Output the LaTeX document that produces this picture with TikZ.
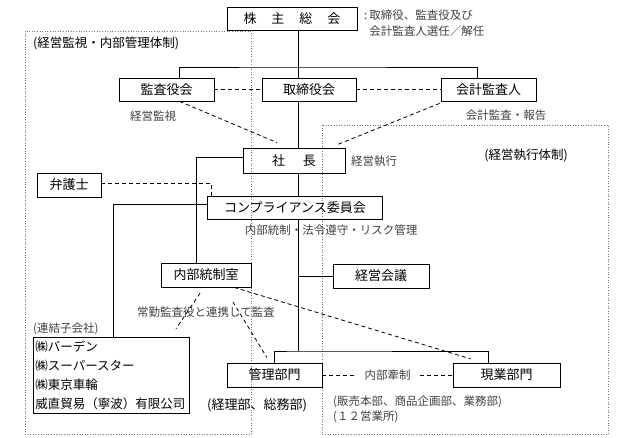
\documentclass[tikz,border=0pt]{standalone}
\usepackage{fontspec}
\setmainfont{Noto Sans CJK JP}
\usetikzlibrary{calc}
\tikzset{
	box/.style={draw, line width=0.8pt, minimum height=23pt, inner sep=0pt, font=\fontsize{13}{15}\selectfont},
	lbl/.style={inner sep=0pt, text=black!75, font=\fontsize{11.5}{16}\selectfont},
	head/.style={inner sep=0pt, font=\fontsize{12.5}{15}\selectfont},
	link/.style={line width=0.8pt},
	dlink/.style={line width=0.8pt, dash pattern=on 4pt off 3pt},
	frame/.style={black!55, line width=0.6pt, dotted}
}

\begin{document}
\begin{tikzpicture}[x=1pt,y=-1pt]
	\useasboundingbox (0,0) rectangle (630,438);
	% dotted frames
	\draw[frame] (25,31) rectangle (251,434);
	\draw[frame] (322,125) rectangle (608,434);
	\node[head, anchor=west] (hmon) at (33,43) {(経営監視・内部管理体制)};
	\node[head] (hexe) at (526,155) {(経営執行体制)};
	% shareholders meeting
	\node[box, minimum width=130pt] (gm) at (292,18.5) {株\hspace{15pt}主\hspace{15pt}総\hspace{15pt}会};
	\node[lbl, anchor=north west, align=left] (gmnote) at (364,10) {:\,取締役、監査役及び\\\phantom{:\,}会計監査人選任／解任};
	% board level
	\node[box, minimum width=95pt] (kansa) at (166.5,89.5) {監査役会};
	\node[box, minimum width=94pt] (board) at (309,89.5) {取締役会};
	\node[box, minimum width=95pt] (acct) at (488.5,89.5) {会計監査人};
	\node[lbl] (lmon) at (153,116) {経営監視};
	\node[lbl] (lacct) at (506,115) {会計監査・報告};
	\coordinate (top) at (298,67);
	\draw[link] (gm.south -| top) -- (top);
	\draw[link] ([xshift=12.5pt]kansa.north) |- (top) -| ([xshift=-11.5pt]acct.north);
	\draw[link] (top) -- (board.north -| top);
	\draw[dlink] (kansa) -- (board);
	\draw[dlink] (board) -- (acct);
	% president
	\node[box, minimum width=102pt, minimum height=25pt] (pres) at (294,160.5) {社\hspace{18pt}長};
	\node[lbl, anchor=west] (lexe) at (351,161) {経営執行};
	\draw[link] (board.south -| top) -- (pres.north -| top);
	\draw[dlink] ([xshift=13pt]kansa.south) -- ([xshift=-17pt,yshift=5pt]pres.north);
	\draw[dlink] ([xshift=-1pt,yshift=-2pt]acct.south west) -- ([xshift=-8pt,yshift=3pt]pres.north east);
	% compliance committee
	\node[box, minimum width=175pt] (comp) at (295,207.5) {コンプライアンス委員会};
	\node[lbl] (lcomp) at (331,230) {内部統制・法令遵守・リスク管理};
	\draw[link] (pres.south -| top) -- (comp.north -| top);
	\node[box, minimum width=64pt, minimum height=24pt] (lawyer) at (69,185) {弁護士};
	\draw[dlink] ([yshift=2pt]lawyer.east) -| ([xshift=4.5pt]comp.north west);
	% internal control office, management meeting
	\node[box, minimum width=90pt, minimum height=24pt] (ictrl) at (206,275) {内部統制室};
	\draw[link] ([yshift=3pt]pres.west) -| ([xshift=-10pt]ictrl.north);
	\node[box, minimum width=96pt, minimum height=24pt] (mtg) at (381,276) {経営会議};
	\draw[link] (mtg.west -| top) -- (mtg.west);
	% departments
	\coordinate (bar) at (298,351);
	\draw[link] (comp.south -| bar) -- (bar);
	\node[box, minimum width=95pt, minimum height=24pt] (admin) at (274.5,375) {管理部門};
	\node[box, minimum width=107pt, minimum height=24pt] (ops) at (506.5,375) {現業部門};
	\draw[link] (admin.north) |- (bar) -| ([xshift=-18.5pt]ops.north);
	\draw[dlink] (admin) -- node[lbl, fill=white, inner xsep=9pt, inner ysep=2pt] (lcheck) {内部牽制} (ops);
	\node[head, font=\fontsize{13}{15}\selectfont] (ladmin) at (257,405) {(経理部、総務部)};
	\node[lbl, anchor=north west, align=left, font=\fontsize{11.5}{14.5}\selectfont] (lops) at (333,396) {(販売本部、商品企画部、業務部)\\(１２営業所)};
	% subsidiaries
	\node[lbl, anchor=west] (lsub) at (33,329) {(連結子会社)};
	\node[box, anchor=north west, minimum width=156pt, minimum height=76pt, text width=152pt, align=left, inner xsep=2pt, font=\fontsize{12.5}{19}\selectfont] (subs) at (33,337) {㈱バーデン\\㈱スーパースター\\㈱東京車輪\\威直貿易（寧波）有限公司};
	\draw[link] ([yshift=3.5pt]comp.west) -| ([xshift=2pt]subs.north);
	% audits by internal control office
	\node[lbl] (lict) at (206,312) {常勤監査役と連携して監査};
	\draw[dlink, shorten <=7pt, shorten >=10pt] ([xshift=-2pt]ictrl.south) -- ([xshift=59pt]subs.north);
	\draw[dlink, shorten <=17pt, shorten >=6pt] ([xshift=18pt]ictrl.south) -- ([xshift=-4.5pt]admin.north);
	\draw[dlink, shorten >=13pt] ([xshift=28pt]ictrl.south) -- ([xshift=-23.5pt]ops.north);
\end{tikzpicture}
\end{document}
